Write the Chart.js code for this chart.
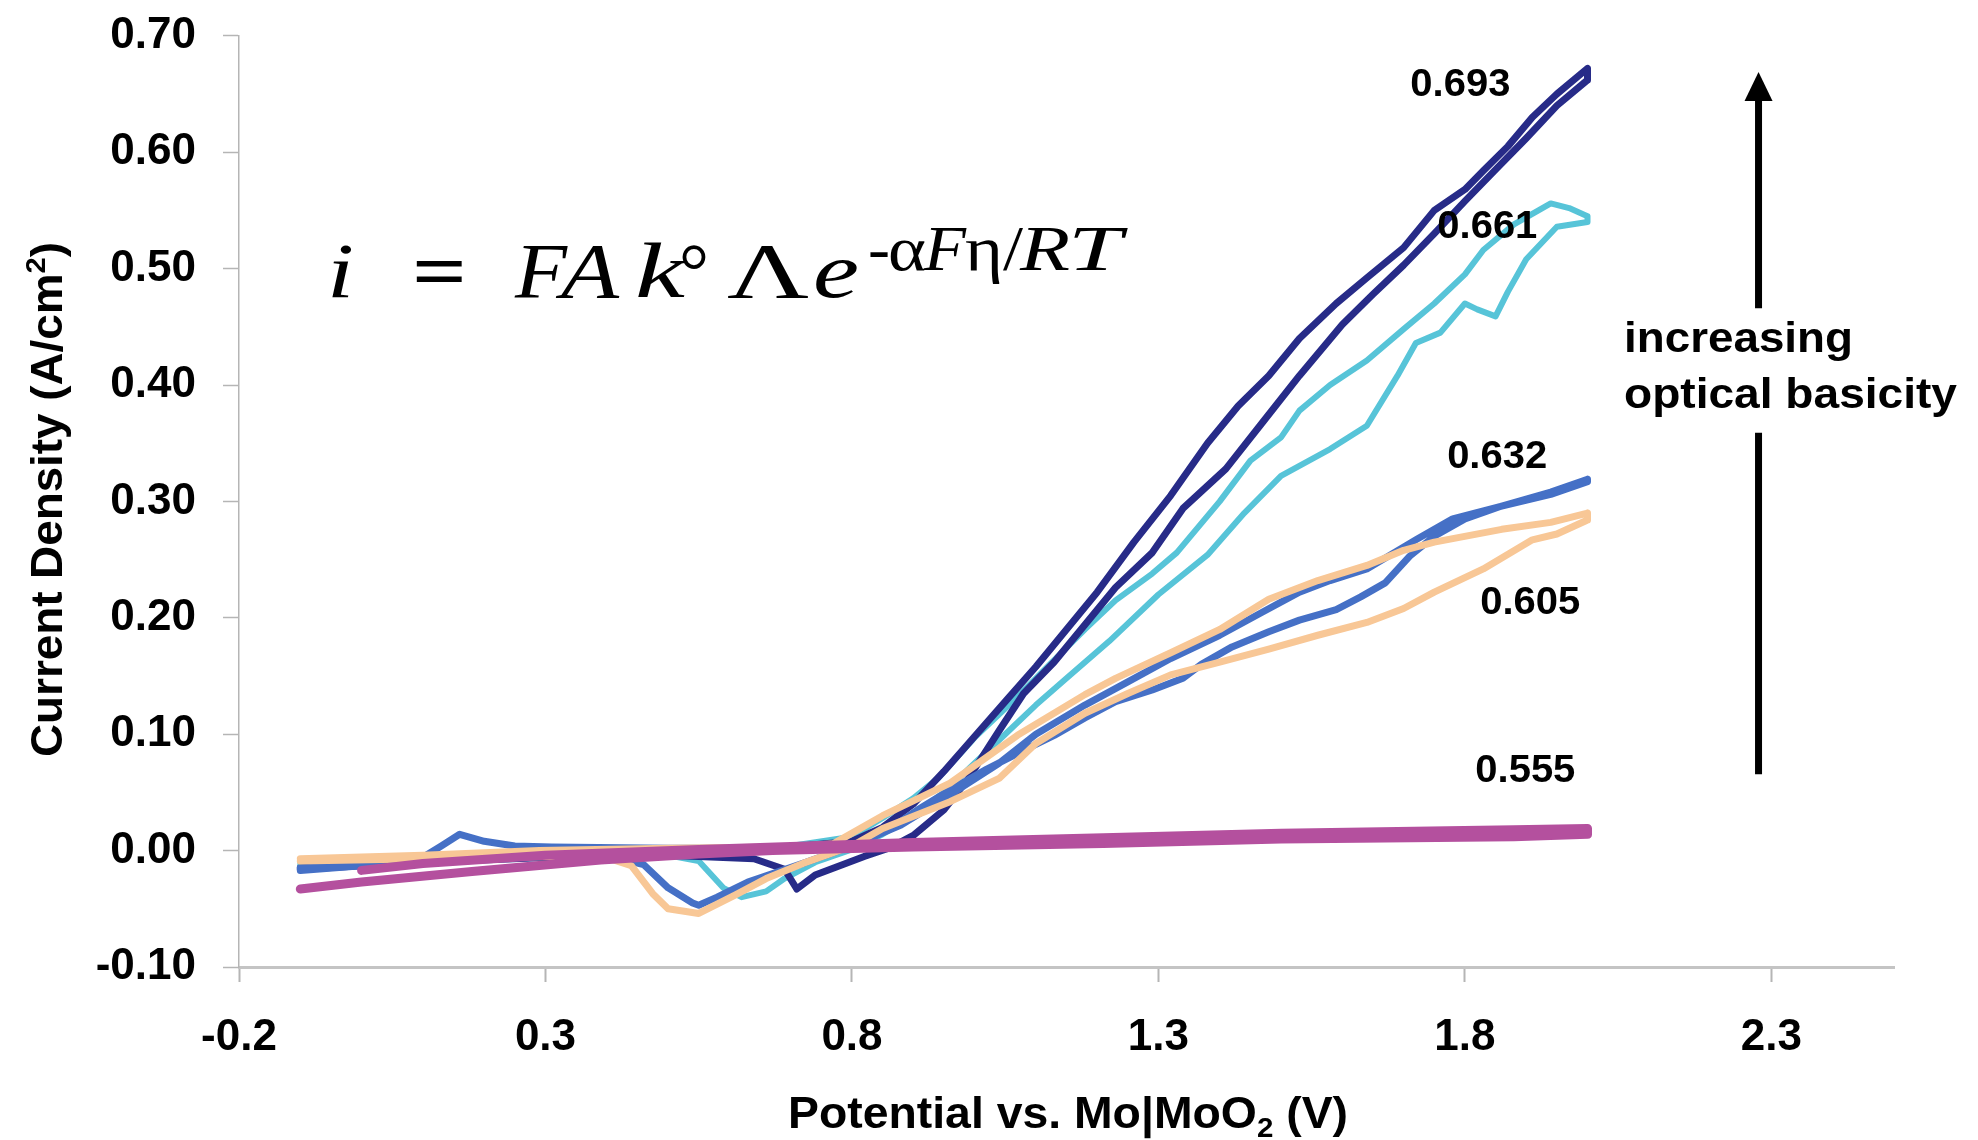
<!DOCTYPE html>
<html>
<head>
<meta charset="utf-8">
<script src="https://cdn.jsdelivr.net/npm/chart.js@4.4.1/dist/chart.umd.min.js"></script>
<style>
  html, body { margin: 0; padding: 0; background: #fff; }
</style>
</head>
<body>
<canvas id="cv" width="1978" height="1140"></canvas>
<script>
// potential (V vs Mo|MoO2) and current density (A/cm2)
// each curve is one loop: forward sweep out to 2.0 V, then the return sweep
const potential0693 = [-0.10, 0.10, 0.30, 0.50, 0.70, 0.80, 0.85, 0.90, 0.95, 1.00, 1.05, 1.10, 1.15, 1.20, 1.26, 1.32, 1.38, 1.43, 1.48, 1.53, 1.59, 1.64, 1.70, 1.75, 1.80, 1.83, 1.87, 1.91, 1.95, 2.00,
  2.00, 1.95, 1.90, 1.85, 1.80, 1.75, 1.70, 1.65, 1.60, 1.53, 1.47, 1.41, 1.34, 1.29, 1.23, 1.18, 1.13, 1.08, 1.04, 0.99, 0.95, 0.90, 0.86, 0.82, 0.78, 0.74, 0.71, 0.69, 0.64, 0.50, 0.30, 0.10, -0.10];
const current0693 = [-0.015, -0.008, -0.003, 0.000, 0.003, 0.008, 0.020, 0.040, 0.068, 0.098, 0.128, 0.158, 0.190, 0.222, 0.265, 0.305, 0.350, 0.382, 0.408, 0.440, 0.470, 0.492, 0.518, 0.550, 0.568, 0.584, 0.605, 0.630, 0.650, 0.672,
  0.662, 0.640, 0.612, 0.585, 0.558, 0.530, 0.503, 0.478, 0.452, 0.408, 0.368, 0.328, 0.294, 0.256, 0.226, 0.194, 0.162, 0.135, 0.103, 0.062, 0.035, 0.013, 0.002, -0.005, -0.013, -0.021, -0.033, -0.016, -0.007, -0.004, -0.006, -0.010, -0.016];

const potential0661 = [-0.10, 0.10, 0.30, 0.50, 0.70, 0.80, 0.85, 0.90, 0.94, 1.00, 1.05, 1.10, 1.18, 1.23, 1.29, 1.33, 1.40, 1.45, 1.50, 1.53, 1.58, 1.64, 1.70, 1.75, 1.80, 1.83, 1.88, 1.94, 1.97, 2.00,
  2.00, 1.95, 1.90, 1.87, 1.85, 1.82, 1.80, 1.76, 1.72, 1.69, 1.64, 1.58, 1.50, 1.44, 1.38, 1.30, 1.22, 1.15, 1.10, 1.05, 1.00, 0.95, 0.90, 0.85, 0.80, 0.74, 0.69, 0.66, 0.62, 0.59, 0.55, 0.50, 0.30, 0.10, -0.10];
const current0661 = [-0.012, -0.006, -0.002, 0.000, 0.004, 0.012, 0.028, 0.045, 0.062, 0.097, 0.122, 0.148, 0.190, 0.215, 0.238, 0.256, 0.300, 0.335, 0.355, 0.378, 0.400, 0.421, 0.448, 0.470, 0.495, 0.516, 0.538, 0.556, 0.552, 0.545,
  0.540, 0.536, 0.508, 0.480, 0.459, 0.465, 0.470, 0.445, 0.436, 0.408, 0.365, 0.345, 0.322, 0.290, 0.254, 0.220, 0.180, 0.148, 0.125, 0.100, 0.075, 0.050, 0.030, 0.014, 0.001, -0.010, -0.024, -0.035, -0.040, -0.032, -0.009, -0.004, -0.005, -0.009, -0.013];

const potential0632 = [-0.10, 0.00, 0.09, 0.13, 0.16, 0.20, 0.25, 0.31, 0.50, 0.70, 0.80, 0.86, 0.91, 0.96, 1.02, 1.08, 1.13, 1.18, 1.23, 1.29, 1.34, 1.37, 1.42, 1.48, 1.53, 1.59, 1.63, 1.67, 1.71, 1.75, 1.80, 1.86, 1.94, 2.00,
  2.00, 1.94, 1.86, 1.78, 1.72, 1.64, 1.58, 1.53, 1.47, 1.40, 1.32, 1.25, 1.18, 1.10, 1.04, 0.96, 0.88, 0.80, 0.72, 0.63, 0.58, 0.55, 0.54, 0.50, 0.46, 0.40, 0.30, 0.10, -0.10];
const current0632 = [-0.017, -0.013, -0.009, 0.004, 0.014, 0.008, 0.004, 0.003, 0.002, 0.002, 0.004, 0.018, 0.036, 0.052, 0.070, 0.086, 0.099, 0.114, 0.128, 0.138, 0.148, 0.160, 0.175, 0.188, 0.198, 0.207, 0.218, 0.230, 0.253, 0.270, 0.285, 0.296, 0.308, 0.319,
  0.317, 0.306, 0.296, 0.285, 0.267, 0.242, 0.232, 0.222, 0.205, 0.185, 0.165, 0.145, 0.125, 0.100, 0.075, 0.048, 0.022, 0.004, -0.011, -0.027, -0.040, -0.047, -0.045, -0.032, -0.012, -0.004, -0.005, -0.010, -0.015];

const potential0605 = [-0.10, 0.10, 0.29, 0.50, 0.70, 0.77, 0.85, 0.96, 1.07, 1.18, 1.23, 1.32, 1.40, 1.48, 1.56, 1.64, 1.70, 1.75, 1.86, 1.94, 2.00,
  2.00, 1.95, 1.91, 1.83, 1.75, 1.70, 1.64, 1.56, 1.48, 1.40, 1.32, 1.25, 1.18, 1.10, 1.04, 0.96, 0.85, 0.80, 0.72, 0.66, 0.61, 0.55, 0.50, 0.475, 0.44, 0.40, 0.30, 0.10, -0.10];
const current0605 = [-0.007, -0.004, 0.000, 0.002, 0.003, 0.006, 0.030, 0.058, 0.099, 0.134, 0.148, 0.170, 0.190, 0.216, 0.232, 0.245, 0.258, 0.265, 0.276, 0.282, 0.290,
  0.284, 0.272, 0.267, 0.242, 0.222, 0.208, 0.196, 0.185, 0.173, 0.162, 0.151, 0.135, 0.118, 0.092, 0.062, 0.042, 0.019, 0.004, -0.011, -0.024, -0.038, -0.054, -0.050, -0.037, -0.013, -0.006, -0.005, -0.007, -0.009];

const potential0555 = [-0.10, 0.00, 0.18, 0.39, 0.55, 0.67, 0.90, 1.21, 1.50, 1.88, 2.00,
  2.00, 1.88, 1.50, 1.21, 0.90, 0.55, 0.30, 0.10, 0.00];
const current0555 = [-0.033, -0.027, -0.018, -0.008, -0.003, 0.000, 0.003, 0.006, 0.010, 0.012, 0.014,
  0.019, 0.018, 0.015, 0.011, 0.007, 0.001, -0.004, -0.011, -0.017];

const basicityLabels = ['0.693', '0.661', '0.632', '0.605', '0.555'];
const xTickValues = [-0.2, 0.3, 0.8, 1.3, 1.8, 2.3];
const yTickValues = [-0.10, 0.00, 0.10, 0.20, 0.30, 0.40, 0.50, 0.60, 0.70];

const FONT = '"Liberation Sans", Arial, sans-serif';
const SERIF = '"Liberation Serif", "Times New Roman", serif';

function toPoints(xs, ys) {
  return xs.map((x, i) => ({ x: x, y: ys[i] }));
}

function curve(xs, ys, color, width, order) {
  return {
    data: toPoints(xs, ys),
    showLine: true,
    borderColor: color,
    backgroundColor: color,
    borderWidth: width,
    borderJoinStyle: 'round',
    borderCapStyle: 'round',
    pointRadius: 0,
    fill: false,
    order: order
  };
}

// draws a run of text pieces (for sub/superscripts), stretched to a width
function richWidth(ctx, parts) {
  let w = 0;
  parts.forEach(p => { ctx.font = p.font; w += ctx.measureText(p.t).width; });
  return w;
}
function drawRich(ctx, parts, x, y, width) {
  const sx = width ? width / richWidth(ctx, parts) : 1;
  ctx.save();
  ctx.translate(x, y);
  ctx.scale(sx, 1);
  ctx.textAlign = 'left';
  ctx.textBaseline = 'alphabetic';
  let cx = 0;
  parts.forEach(p => {
    ctx.font = p.font;
    ctx.fillText(p.t, cx, p.dy || 0);
    cx += ctx.measureText(p.t).width;
  });
  ctx.restore();
}

const whiteBg = {
  id: 'whiteBg',
  beforeDraw(chart) {
    const c = chart.ctx;
    c.save();
    c.fillStyle = '#fff';
    c.fillRect(0, 0, chart.width, chart.height);
    c.restore();
  }
};

const annotate = {
  id: 'annotate',
  afterDraw(chart) {
    const c = chart.ctx;
    const xs = chart.scales.x, ys = chart.scales.y;
    const px = v => xs.getPixelForValue(v);
    const py = v => ys.getPixelForValue(v);
    c.save();
    c.fillStyle = '#000';

    // curve labels, left edge + baseline in data units
    const labelAt = [[1.711, 0.648], [1.755, 0.526], [1.771, 0.329], [1.825, 0.203], [1.817, 0.059]];
    basicityLabels.forEach((t, i) => {
      drawRich(c, [{ t: t, font: 'bold 38px ' + FONT }], px(labelAt[i][0]), py(labelAt[i][1]), 100);
    });

    // arrow
    const ax = px(2.279);
    c.strokeStyle = '#000';
    c.lineWidth = 7;
    c.beginPath();
    c.moveTo(ax, py(0.645)); c.lineTo(ax, py(0.466));
    c.moveTo(ax, py(0.359)); c.lineTo(ax, py(0.0655));
    c.stroke();
    c.beginPath();
    c.moveTo(ax, py(0.669));
    c.lineTo(ax - 14, py(0.669) + 29);
    c.lineTo(ax + 14, py(0.669) + 29);
    c.closePath();
    c.fill();

    drawRich(c, [{ t: 'increasing', font: 'bold 42px ' + FONT }], 1624, 352, 229);
    drawRich(c, [{ t: 'optical basicity', font: 'bold 42px ' + FONT }], 1624, 408, 333);

    // rate expression
    const main = 'italic 78px ' + SERIF, up = '78px ' + SERIF;
    const sMain = 'italic 64px ' + SERIF, sUp = '64px ' + SERIF;
    [['i', main, 327, 27, 297], ['=', 'bold 78px ' + SERIF, 412, 55, 297], ['F', main, 515, 52, 297],
     ['A', main, 561, 58, 297], ['k', main, 635, 50, 297], ['°', up, 679, 30, 297],
     ['Λ', up, 727, 82, 297], ['e', main, 813, 46, 297],
     ['-', sUp, 868, 22, 270], ['α', sUp, 888, 38, 270], ['F', sMain, 924, 42, 270],
     ['η', sUp, 965, 38, 270], ['/', sUp, 1003, 20, 270], ['R', sMain, 1020, 50, 270],
     ['T', sMain, 1068, 54, 270]
    ].forEach(p => drawRich(c, [{ t: p[0], font: p[1] }], p[2], p[4], p[3]));

    // axis titles
    const tf = 'bold 44px ' + FONT, sf = 'bold 28px ' + FONT;
    drawRich(c, [{ t: 'Potential vs. Mo|MoO', font: tf }, { t: '2', font: sf, dy: 9 }, { t: ' (V)', font: tf }], 788, 1128, 560);
    c.save();
    c.translate(62, 757);
    c.rotate(-Math.PI / 2);
    drawRich(c, [{ t: 'Current Density (A/cm', font: tf }, { t: '2', font: sf, dy: -17 }, { t: ')', font: tf }], 0, 0, 515);
    c.restore();

    c.restore();
  }
};

new Chart(document.getElementById('cv'), {
  type: 'scatter',
  data: {
    datasets: [
      curve(potential0555, current0555, '#b4509e', 9, 0),
      curve(potential0605, current0605, '#f8c796', 7, 1),
      curve(potential0632, current0632, '#4570c6', 7, 2),
      curve(potential0693, current0693, '#272b88', 7, 3),
      curve(potential0661, current0661, '#57c4d8', 6, 4)
    ]
  },
  options: {
    responsive: false,
    animation: false,
    devicePixelRatio: 1,
    layout: { padding: { top: 32, right: 84, left: 0, bottom: 0 }, autoPadding: false },
    plugins: { legend: { display: false }, tooltip: { enabled: false } },
    scales: {
      x: {
        type: 'linear',
        min: -0.2,
        max: 2.5,
        afterBuildTicks: s => { s.ticks = xTickValues.map(v => ({ value: v })); },
        afterFit: s => { s.height = 173; },
        grid: { drawOnChartArea: false, drawTicks: true, tickLength: 15, tickColor: '#b5b5b5', tickWidth: 2 },
        border: { color: '#c4c4c4', width: 3 },
        ticks: {
          color: '#000',
          font: { family: FONT, size: 44, weight: 'bold' },
          padding: 29,
          maxRotation: 0,
          autoSkip: false,
          callback: v => v.toFixed(1)
        }
      },
      y: {
        type: 'linear',
        min: -0.10,
        max: 0.70,
        afterBuildTicks: s => { s.ticks = yTickValues.map(v => ({ value: v })); },
        afterFit: s => { s.width = 239; },
        grid: { drawOnChartArea: false, drawTicks: true, tickLength: 16, tickColor: '#b5b5b5', tickWidth: 1.5 },
        border: { color: '#b5b5b5', width: 1.5 },
        ticks: {
          color: '#000',
          font: { family: FONT, size: 44, weight: 'bold', lineHeight: 0.4 },
          padding: 27,
          callback: v => v.toFixed(2)
        }
      }
    }
  },
  plugins: [whiteBg, annotate]
});
</script>
</body>
</html>
